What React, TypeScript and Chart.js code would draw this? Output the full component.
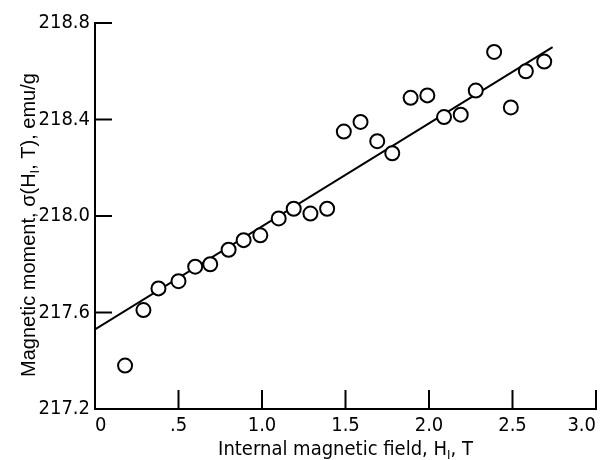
import React, { useEffect, useRef } from "react";
import { Chart, registerables } from "chart.js";

Chart.register(...registerables);

// Measured data: internal magnetic field (T) vs magnetic moment (emu/g)
const fieldT = [0.18, 0.29, 0.38, 0.5, 0.6, 0.69, 0.8, 0.89, 0.99, 1.1, 1.19, 1.29, 1.39, 1.49, 1.59, 1.69, 1.78, 1.89, 1.99, 2.09, 2.19, 2.28, 2.39, 2.49, 2.58, 2.69];
const moment = [217.38, 217.61, 217.7, 217.73, 217.79, 217.8, 217.86, 217.9, 217.92, 217.99, 218.03, 218.01, 218.03, 218.35, 218.39, 218.31, 218.26, 218.49, 218.5, 218.41, 218.42, 218.52, 218.68, 218.45, 218.6, 218.64];

// Fitted straight line
const fitX = [0, 2.74];
const fitY = [217.53, 218.7];

// Axis ticks
const xTicks = [0, 0.5, 1, 1.5, 2, 2.5, 3];
const xTickLabels = ["0", ".5", "1.0", "1.5", "2.0", "2.5", "3.0"];
const yTicks = [217.2, 217.6, 218.0, 218.4, 218.8];
const yTickLabels = ["217.2", "217.6", "218.0", "218.4", "218.8"];

const NARROW = '"Liberation Sans Narrow", "DejaVu Sans Condensed", sans-serif';
const REGULAR = '"Liberation Sans", Arial, sans-serif';

type Part = { text: string; sub?: boolean };

function drawRich(ctx: CanvasRenderingContext2D, parts: Part[], cx: number, baseline: number, family: string, size: number, subSize: number, subDrop: number) {
  const widths = parts.map((p) => {
    ctx.font = `${p.sub ? subSize : size}px ${family}`;
    return ctx.measureText(p.text).width;
  });
  const total = widths.reduce((a, b) => a + b, 0);
  let x = cx - total / 2;
  ctx.textAlign = "left";
  ctx.textBaseline = "alphabetic";
  parts.forEach((p, i) => {
    ctx.font = `${p.sub ? subSize : size}px ${family}`;
    ctx.fillText(p.text, x, baseline + (p.sub ? subDrop : 0));
    x += widths[i];
  });
}

const decorations = {
  id: "decorations",
  afterDraw(chart: any) {
    const { ctx, chartArea, scales } = chart;
    const xs = scales.x;
    const ys = scales.y;
    ctx.save();
    ctx.strokeStyle = "#000";
    ctx.lineWidth = 2;
    xTicks.forEach((v) => {
      const px = xs.getPixelForValue(v);
      ctx.beginPath();
      ctx.moveTo(px, chartArea.bottom);
      ctx.lineTo(px, chartArea.bottom - 19);
      ctx.stroke();
    });
    yTicks.forEach((v) => {
      const py = ys.getPixelForValue(v);
      ctx.beginPath();
      ctx.moveTo(chartArea.left, py);
      ctx.lineTo(chartArea.left + 17, py);
      ctx.stroke();
    });
    ctx.fillStyle = "#000";
    // x axis title
    drawRich(
      ctx,
      [{ text: "Internal magnetic field, H" }, { text: "I", sub: true }, { text: ", T" }],
      (chartArea.left + chartArea.right) / 2,
      455,
      NARROW,
      20,
      13,
      4
    );
    // y axis title
    ctx.save();
    ctx.translate(35, 225);
    ctx.rotate(-Math.PI / 2);
    drawRich(
      ctx,
      [{ text: "Magnetic moment, σ(H" }, { text: "I", sub: true }, { text: ", T), emu/g" }],
      0,
      0,
      REGULAR,
      20,
      13,
      4
    );
    ctx.restore();
    ctx.restore();
  },
};

export default function App() {
  const ref = useRef<HTMLCanvasElement>(null);
  useEffect(() => {
    if (!ref.current) return;
    const chart = new Chart(ref.current, {
      type: "scatter",
      data: {
        datasets: [
          {
            label: "Measured",
            data: fieldT.map((x, i) => ({ x, y: moment[i] })),
            pointRadius: 7,
            pointBorderWidth: 2,
            pointBackgroundColor: "#fff",
            pointBorderColor: "#000",
            showLine: false,
            order: 0,
          },
          {
            label: "Fit",
            data: fitX.map((x, i) => ({ x, y: fitY[i] })),
            showLine: true,
            borderColor: "#000",
            borderWidth: 2,
            pointRadius: 0,
            order: 1,
          },
        ],
      },
      options: {
        responsive: false,
        animation: false,
        layout: { padding: { top: 23, right: 10, left: 0, bottom: 0 } },
        plugins: { legend: { display: false }, tooltip: { enabled: false } },
        scales: {
          x: {
            type: "linear",
            min: 0,
            max: 3,
            afterBuildTicks: (s: any) => {
              s.ticks = xTicks.map((v) => ({ value: v }));
            },
            afterFit: (s: any) => {
              s.height = 51;
              s.paddingLeft = 0;
              s.paddingRight = 0;
            },
            grid: { display: false, drawTicks: false },
            border: { display: true, color: "#000", width: 2 },
            ticks: {
              color: "#000",
              padding: 5,
              maxRotation: 0,
              align: "inner",
              font: { family: NARROW, size: 20 },
              callback: (_v: any, i: number) => xTickLabels[i],
            },
          },
          y: {
            type: "linear",
            min: 217.2,
            max: 218.8,
            afterBuildTicks: (s: any) => {
              s.ticks = yTicks.map((v) => ({ value: v }));
            },
            afterFit: (s: any) => {
              s.width = 95;
              s.paddingTop = 0;
              s.paddingBottom = 0;
            },
            grid: { display: false, drawTicks: false },
            border: { display: true, color: "#000", width: 2 },
            ticks: {
              color: "#000",
              padding: 5,
              font: { family: NARROW, size: 20 },
              callback: (_v: any, i: number) => yTickLabels[i],
            },
          },
        },
      },
      plugins: [decorations],
    } as any);
    return () => chart.destroy();
  }, []);
  return (
    <div style={{ position: "fixed", left: 0, top: 0, width: 606, height: 460, background: "#fff" }}>
      <canvas ref={ref} width={606} height={460} style={{ display: "block" }} />
    </div>
  );
}
